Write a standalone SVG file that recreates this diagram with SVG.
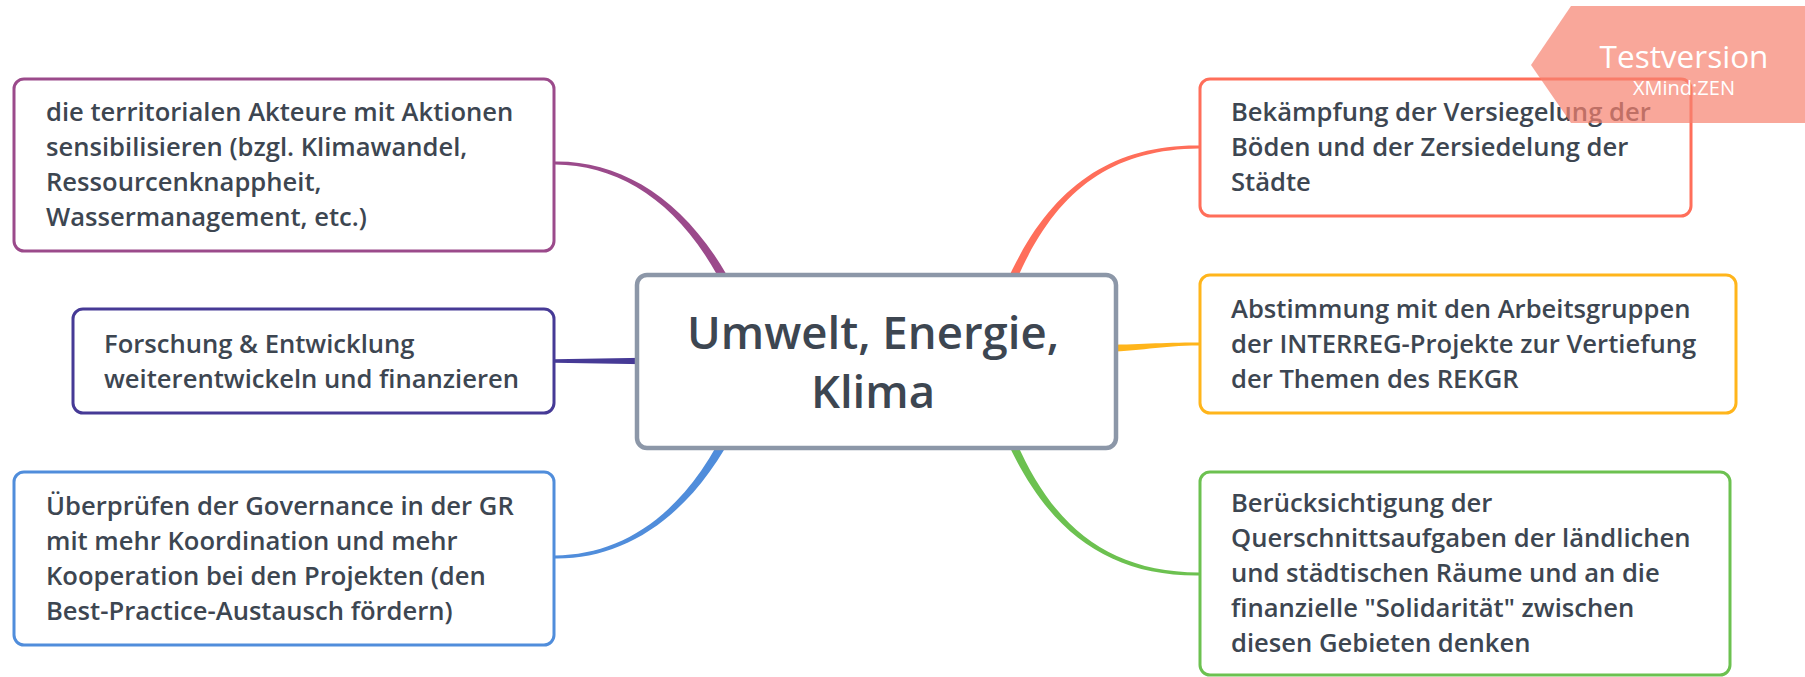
<svg xmlns="http://www.w3.org/2000/svg" width="1805" height="677" viewBox="0 0 1805 677">
<style>
.box{fill:#ffffff;stroke-width:3}
.t{font-family:"Open Sans","Noto Sans","Liberation Sans",sans-serif;font-size:25.6px;font-weight:600;fill:#3d4651}
.c{font-family:"Open Sans","Noto Sans","Liberation Sans",sans-serif;font-size:45.5px;font-weight:600;fill:#3d4651;text-anchor:middle}
.wm{font-family:"Open Sans","Noto Sans","Liberation Sans",sans-serif;fill:#ffffff;text-anchor:middle}
</style>
<rect width="1805" height="677" fill="#ffffff"/>
<g id="connectors">
<path fill="#9b4a8b" d="M555,161.5 C625,160.5 693.2,203.5 739.1,298.1 L730.9,301.9 C686.8,206.5 625,165.5 555,164.5 Z"/>
<path fill="#463a96" d="M554,359.3 L660,357.5 L660,364.5 L554,362.7 Z"/>
<path fill="#508ddb" d="M555,558.5 C625,559.5 693.2,516.5 739.1,421.9 L730.9,418.1 C686.8,513.5 625,554.5 555,555.5 Z"/>
<path fill="#ff6e5a" d="M1199,145.5 C1100,144.5 1036.7,198.8 995.8,308.5 L1004.2,311.5 C1043.3,201.2 1100,149.5 1199,148.5 Z"/>
<path fill="#ffb51b" d="M1199,342.5 C1160,342.5 1140,344.5 1100,345 L1100,352 C1140,351.5 1160,345.5 1199,345.5 Z"/>
<path fill="#6cc150" d="M1199,575.5 C1100,576.5 1036.7,522.2 995.8,414.6 L1004.2,411.4 C1043.3,519.8 1100,571.5 1199,572.5 Z"/>
</g>
<g id="central">
<rect x="637" y="275" width="479" height="173" rx="10" fill="#ffffff" stroke="#8c97a8" stroke-width="4.5"/>
<text class="c" x="873" y="349">Umwelt, Energie,</text>
<text class="c" x="873" y="408">Klima</text>
</g>
<g id="node-purple">
<rect class="box" x="14" y="79" width="540" height="172" rx="10" stroke="#9b4a8b"/>
<text class="t" x="46" y="121">die territorialen Akteure mit Aktionen</text>
<text class="t" x="46" y="156">sensibilisieren (bzgl. Klimawandel,</text>
<text class="t" x="46" y="191">Ressourcenknappheit,</text>
<text class="t" x="46" y="226">Wassermanagement, etc.)</text>
</g>
<g id="node-indigo">
<rect class="box" x="73" y="309" width="481" height="104" rx="10" stroke="#463a96"/>
<text class="t" x="104" y="353">Forschung &amp; Entwicklung</text>
<text class="t" x="104" y="388">weiterentwickeln und finanzieren</text>
</g>
<g id="node-blue">
<rect class="box" x="14" y="472" width="540" height="173" rx="10" stroke="#508ddb"/>
<text class="t" x="46" y="515">Überprüfen der Governance in der GR</text>
<text class="t" x="46" y="550">mit mehr Koordination und mehr</text>
<text class="t" x="46" y="585">Kooperation bei den Projekten (den</text>
<text class="t" x="46" y="620">Best-Practice-Austausch fördern)</text>
</g>
<g id="node-red">
<rect class="box" x="1200" y="79" width="491" height="137" rx="10" stroke="#ff6e5a"/>
<text class="t" x="1231" y="121">Bekämpfung der Versiegelung der</text>
<text class="t" x="1231" y="156">Böden und der Zersiedelung der</text>
<text class="t" x="1231" y="191">Städte</text>
</g>
<g id="node-yellow">
<rect class="box" x="1200" y="275" width="536" height="138" rx="10" stroke="#ffb51b"/>
<text class="t" x="1231" y="318">Abstimmung mit den Arbeitsgruppen</text>
<text class="t" x="1231" y="353">der INTERREG-Projekte zur Vertiefung</text>
<text class="t" x="1231" y="388">der Themen des REKGR</text>
</g>
<g id="node-green">
<rect class="box" x="1200" y="472" width="530" height="203" rx="10" stroke="#6cc150"/>
<text class="t" x="1231" y="512">Berücksichtigung der</text>
<text class="t" x="1231" y="547">Querschnittsaufgaben der ländlichen</text>
<text class="t" x="1231" y="582">und städtischen Räume und an die</text>
<text class="t" x="1231" y="617">finanzielle "Solidarität" zwischen</text>
<text class="t" x="1231" y="652">diesen Gebieten denken</text>
</g>
<g id="watermark">
<polygon points="1571,6 1805,6 1805,123 1571,123 1531,65" fill="#f7826f" opacity="0.7"/>
<text class="wm" x="1684" y="68" font-size="31.5">Testversion</text>
<text class="wm" x="1684" y="95" font-size="20">XMind:ZEN</text>
</g>
</svg>
